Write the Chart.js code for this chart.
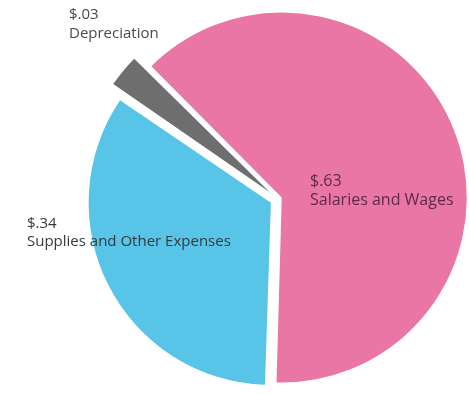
<!DOCTYPE html>
<html>
<head>
<meta charset="utf-8">
<script src="https://cdn.jsdelivr.net/npm/chart.js@4.4.1/dist/chart.umd.min.js"></script>
<style>
  html, body { margin: 0; padding: 0; background: #ffffff; }
  #wrap { width: 469px; height: 394px; position: relative; overflow: hidden; }
  canvas { display: block; }
</style>
</head>
<body>
<div id="wrap"><canvas id="c" width="469" height="394"></canvas></div>
<script>
// ---- data ----
const categories = ["Salaries and Wages", "Supplies and Other Expenses", "Depreciation"];
const values = [0.63, 0.34, 0.03];
const valueLabels = ["$.63", "$.34", "$.03"];

// ---- styling / layout (not data) ----
const sliceColors = ["#ea76a5", "#58c4e8", "#6e6e6e"];
// Chart.js v4 translates an arc by offset/4 px
const sliceOffsets = [16, 32, 44];
const labelColors = ["#5e2a48", "#333a3e", "#4a4a4a"];
const labelFonts = ["16px 'Open Sans', sans-serif", "15px 'Open Sans', sans-serif", "15px 'Open Sans', sans-serif"];
const labelPos = [
  { x: 310, y1: 186, y2: 205 },
  { x: 27,  y1: 228, y2: 246 },
  { x: 69,  y1: 19,  y2: 38 }
];

const labelPlugin = {
  id: "sliceLabels",
  afterDatasetsDraw(chart) {
    const ctx = chart.ctx;
    ctx.save();
    ctx.textBaseline = "alphabetic";
    ctx.textAlign = "left";
    categories.forEach((name, i) => {
      const p = labelPos[i];
      ctx.font = labelFonts[i];
      ctx.fillStyle = labelColors[i];
      ctx.fillText(valueLabels[i], p.x, p.y1);
      ctx.fillText(name, p.x, p.y2);
    });
    ctx.restore();
  }
};

new Chart(document.getElementById("c"), {
  type: "pie",
  data: {
    labels: categories,
    datasets: [{
      data: values,
      backgroundColor: sliceColors,
      borderWidth: 0,
      offset: sliceOffsets,
      hoverOffset: 0,
      radius: 181,
      rotation: -45,
      clip: false
    }]
  },
  options: {
    responsive: false,
    animation: false,
    events: [],
    radius: 181,
    rotation: -45,
    layout: { padding: { left: 87, right: 0, top: 4, bottom: 0 } },
    plugins: {
      legend: { display: false },
      tooltip: { enabled: false },
      title: { display: false }
    }
  },
  plugins: [labelPlugin]
});
</script>
</body>
</html>
